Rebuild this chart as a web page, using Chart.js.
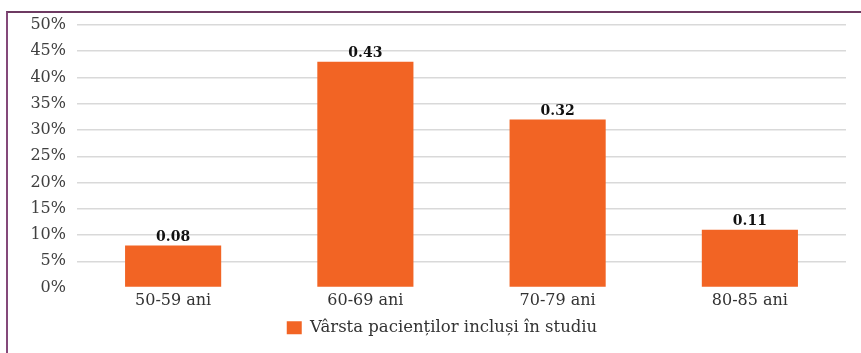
<!DOCTYPE html>
<html>
<head>
<meta charset="utf-8">
<script src="https://cdn.jsdelivr.net/npm/chart.js@4/dist/chart.umd.min.js"></script>
<style>
  html, body { margin: 0; padding: 0; background: #ffffff; }
  #wrap { position: relative; width: 861px; height: 353px; }
  #frame {
    position: absolute; left: 6px; top: 11px; right: 0; bottom: -4px;
    border-left: 2px solid #84497a; border-top: 2px solid #6e3a62;
    pointer-events: none;
  }
  canvas { position: absolute; left: 0; top: 0; }
</style>
</head>
<body>
<div id="wrap">
  <canvas id="chart" width="861" height="353"></canvas>
  <div id="frame"></div>
</div>
<script>
// Age groups of the patients and their share of the study
const categories = ['50-59 ani', '60-69 ani', '70-79 ani', '80-85 ani'];
const shares = [0.08, 0.43, 0.32, 0.11];
const seriesName = 'Vârsta pacienților incluși în studiu';
const yMax = 0.5;
const yStep = 0.05;

const serif = "'DejaVu Serif', serif";
const barColor = '#f26424';

// Writes each bar's value just above it
const valueLabels = {
  id: 'valueLabels',
  afterDatasetsDraw(chart) {
    const ctx = chart.ctx;
    const meta = chart.getDatasetMeta(0);
    const values = chart.data.datasets[0].data;
    ctx.save();
    ctx.font = "bold 14px " + serif;
    ctx.fillStyle = '#111111';
    ctx.textAlign = 'center';
    ctx.textBaseline = 'bottom';
    meta.data.forEach((bar, i) => {
      ctx.fillText(values[i].toFixed(2), bar.x, bar.y - 1);
    });
    ctx.restore();
  }
};

// Widens the legend box to the right so the entry sits a little right of centre
const legendOffset = {
  id: 'legendOffset',
  afterLayout(chart) {
    const lg = chart.legend;
    if (lg) {
      lg.right = chart.chartArea.right + 38;
    }
  }
};

new Chart(document.getElementById('chart'), {
  type: 'bar',
  data: {
    labels: categories,
    datasets: [{
      label: seriesName,
      data: shares,
      backgroundColor: barColor,
      borderWidth: 0,
      barPercentage: 0.5,
      categoryPercentage: 1.0
    }]
  },
  options: {
    responsive: false,
    animation: false,
    layout: { padding: { left: 0, right: 15, top: 25, bottom: 7 } },
    plugins: {
      tooltip: { enabled: false },
      legend: {
        position: 'bottom',
        labels: {
          boxWidth: 15,
          boxHeight: 13,
          padding: 6,
          color: '#333333',
          font: { family: serif, size: 16.5 }
        }
      }
    },
    scales: {
      x: {
        grid: { display: false, drawTicks: false },
        border: { display: false },
        ticks: {
          color: '#333333',
          padding: 5,
          font: { family: serif, size: 16, lineHeight: 1.0 }
        }
      },
      y: {
        min: 0,
        max: yMax,
        afterFit(scale) { scale.width = 77; },
        border: { display: false },
        grid: {
          drawTicks: false,
          lineWidth: 1.5,
          color: (c) => (c.tick && c.tick.value === 0) ? 'rgba(0,0,0,0)' : '#d9d9d9'
        },
        ticks: {
          stepSize: yStep,
          padding: 11,
          color: '#404040',
          font: { family: serif, size: 16 },
          callback: (v) => Math.round(v * 100) + '%'
        }
      }
    }
  },
  plugins: [valueLabels, legendOffset]
});
</script>
</body>
</html>
